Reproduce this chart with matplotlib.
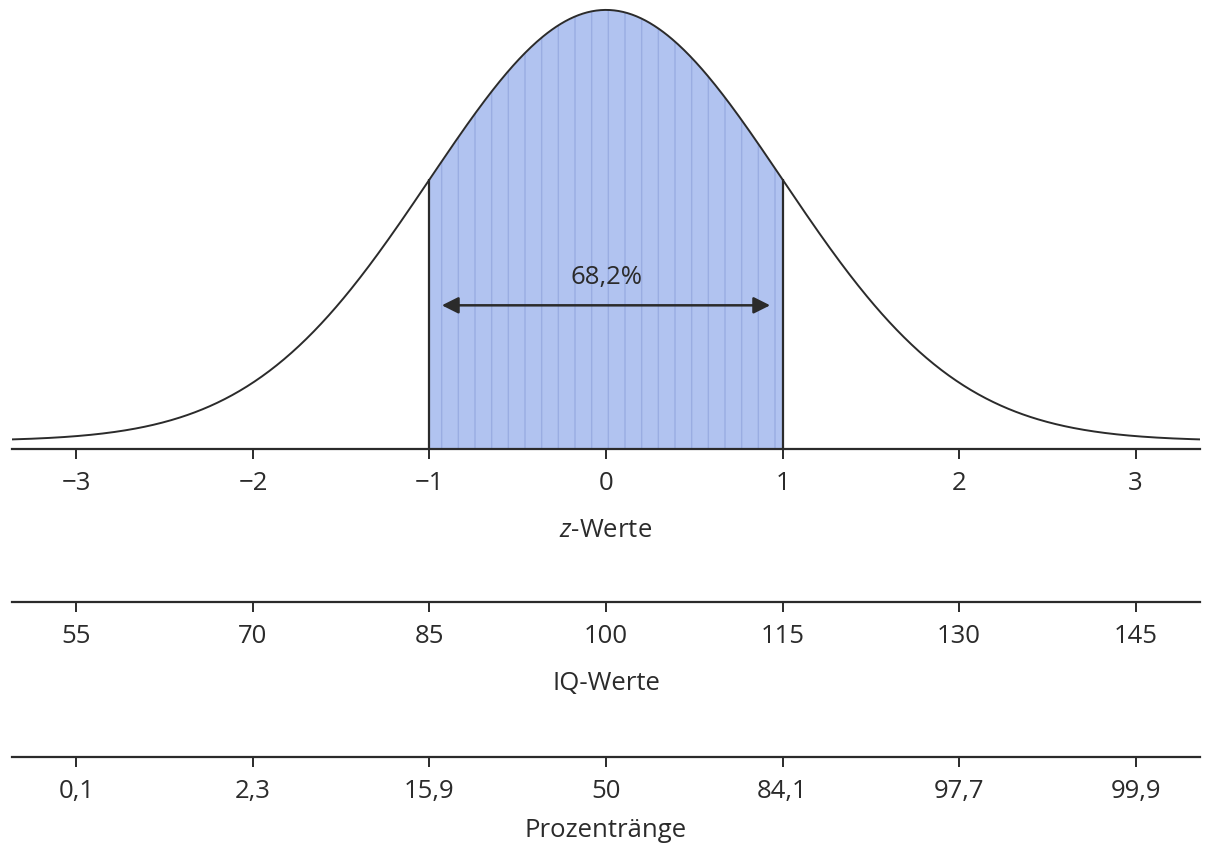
import numpy as np
import matplotlib.pyplot as plt
from matplotlib import font_manager

# scale values
z_ticks = [-3, -2, -1, 0, 1, 2, 3]
iq_ticks = [55, 70, 85, 100, 115, 130, 145]
pr_labels = ['0,1', '2,3', '15,9', '50', '84,1', '97,7', '99,9']
shade_from, shade_to = -1, 1
shade_label = '68,2%'

installed = {f.name for f in font_manager.fontManager.ttflist}
families = [f for f in ['Liberation Sans Narrow', 'Open Sans'] if f in installed]
plt.rcParams['font.family'] = families + ['DejaVu Sans']
plt.rcParams['mathtext.fontset'] = 'custom'
plt.rcParams['mathtext.it'] = (families[0] if families else 'DejaVu Sans') + ':italic'
plt.rcParams['hatch.linewidth'] = 1.0

ink = '#2b2b2b'
fill_col = '#b1c3f0'
hatch_col = '#9aade2'
fs = 18.5

zmax = 3.365
offset = 0.0075  # curve sits a bit above the axis line


def pdf(z):
    return np.exp(-z ** 2 / 2) / np.sqrt(2 * np.pi)


fig = plt.figure(figsize=(12.08, 8.46), dpi=100)
L, W = 12 / 1208, 1188 / 1208

ax = fig.add_axes([L, (846 - 449) / 846, W, (449 - 5) / 846])
z = np.linspace(-zmax, zmax, 800)
ax.plot(z, pdf(z) + offset, color=ink, lw=1.4, zorder=3)

zs = np.linspace(shade_from, shade_to, 300)
ax.fill_between(zs, 0, pdf(zs) + offset, color=fill_col, lw=0, zorder=1)
ax.fill_between(zs, 0, pdf(zs) + offset, facecolor='none', edgecolor=hatch_col,
                hatch='|', lw=0, zorder=2)
ax.vlines([shade_from, shade_to], 0, pdf(np.array([shade_from, shade_to])) + offset,
          color=ink, lw=1.6, zorder=3)

arrow_y = 0.133
ax.annotate('', xy=(shade_from + 0.07, arrow_y), xytext=(shade_to - 0.07, arrow_y),
            arrowprops=dict(arrowstyle='<|-|>', color=ink, lw=1.8,
                            mutation_scale=25, shrinkA=0, shrinkB=0), zorder=4)
ax.text(0, arrow_y + 0.026, shade_label, ha='center', va='center', fontsize=fs, color=ink)

ax.set_xlim(-zmax, zmax)
ax.set_ylim(0, 0.411)


def style_axis(a, ticks, labels, xlabel, labelpad=16):
    for s in ['top', 'left', 'right']:
        a.spines[s].set_visible(False)
    a.spines['bottom'].set_color(ink)
    a.spines['bottom'].set_linewidth(1.6)
    a.set_yticks([])
    a.set_xticks(ticks)
    a.set_xticklabels(labels)
    a.tick_params(axis='x', direction='out', length=7, width=1.4, color=ink,
                  labelsize=fs, labelcolor=ink, pad=9)
    a.set_xlabel(xlabel, fontsize=fs, color=ink, labelpad=labelpad)
    a.patch.set_alpha(0)


style_axis(ax, z_ticks, ['\u2212' + str(-t) if t < 0 else str(t) for t in z_ticks], r'$z$-Werte')

ax_iq = fig.add_axes([L, (846 - 602) / 846, W, 0.001])
ax_iq.set_xlim(100 - 15 * zmax, 100 + 15 * zmax)
style_axis(ax_iq, iq_ticks, [str(v) for v in iq_ticks], 'IQ-Werte')

ax_pr = fig.add_axes([L, (846 - 757) / 846, W, 0.001])
ax_pr.set_xlim(-zmax, zmax)
style_axis(ax_pr, z_ticks, pr_labels, 'Prozentränge', labelpad=10)

fig.savefig('out.png', dpi=100)
